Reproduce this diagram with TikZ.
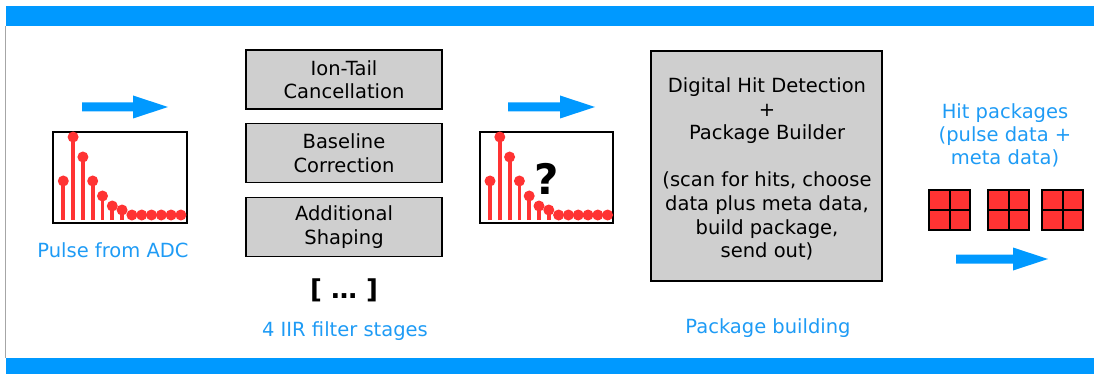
\documentclass[tikz,border=0pt]{standalone}
\usepackage{fontspec}
\setmainfont{DejaVu Sans}
\definecolor{barblue}{HTML}{0099FF}
\definecolor{txtblue}{HTML}{1E9BF5}
\definecolor{boxgray}{HTML}{CFCFCF}
\definecolor{dotred}{HTML}{FF3333}
\newcommand\mypulse[2]{%
  \foreach \h [count=\i from 0] in {39,83,63,39,24,14,10,5,5,5,5,5,5} {
    \draw[stemline] ({#1+\i*9.8}, #2) -- ({#1+\i*9.8}, {#2-\h});
    \fill[dotred] ({#1+\i*9.8}, {#2-\h}) circle (5.5pt);
  }}
\newcommand\myarrow[3]{%
  \fill[barblue] (#1,{#3-4.5}) -- ({#2-35},{#3-4.5}) -- ({#2-35},{#3-11.5}) -- (#2,#3)
    -- ({#2-35},{#3+11.5}) -- ({#2-35},{#3+4.5}) -- (#1,{#3+4.5}) -- cycle;}
\newcommand\mypack[2]{%
  \fill[dotred] (#1,#2) rectangle ({#1+41},{#2+40});
  \draw[black, line width=2pt] (#1,#2) rectangle ({#1+41},{#2+40});
  \draw[black, line width=2pt] ({#1+20.5},#2) -- ({#1+20.5},{#2+40});
  \draw[black, line width=2pt] (#1,{#2+20}) -- ({#1+41},{#2+20});}
\begin{document}
\begin{tikzpicture}[x=1pt,y=-1pt,
  stemline/.style={draw=dotred, line width=3.8pt},
  stagebox/.style={draw=black, line width=1.8pt, fill=boxgray, minimum width=196pt,
    minimum height=59pt, align=center, inner sep=0pt,
    font=\fontsize{19.5}{23.5}\selectfont},
  bluelabel/.style={text=txtblue, align=center, inner sep=0pt,
    font=\fontsize{19.5}{23.5}\selectfont},
  plotbox/.style={draw=black, line width=2pt}]
\useasboundingbox (0,0) rectangle (1094,374);
% frame
\fill[barblue] (5.5,6) rectangle (1094,26);
\fill[barblue] (5.5,358) rectangle (1094,374);
\draw[gray!70, line width=1.5pt] (5.5,26) -- (5.5,358);
% input pulse
\myarrow{82}{168}{107}
\draw[plotbox] (53,132) rectangle (187,223);
\mypulse{63.3}{220}
\node[bluelabel, anchor=base] (adc) at (113,257) {Pulse from ADC};
% filter stages
\node[stagebox] (ion) at (344,79.5) {Ion-Tail\\Cancellation};
\node[stagebox] (base) at (344,153) {Baseline\\Correction};
\node[stagebox] (shape) at (344,227) {Additional\\Shaping};
\node[font=\fontsize{26}{30}\bfseries, inner sep=0pt] (dots) at (344,290) {[ \dots\ ]};
\node[bluelabel, anchor=base] (iir) at (345,336) {4 IIR filter stages};
% filtered pulse
\myarrow{508}{595}{107}
\draw[plotbox] (480,132) rectangle (613,223);
\mypulse{490}{220}
\node[font=\fontsize{42}{46}\bfseries, inner sep=0pt] (q) at (547,179) {?};
% package builder
\node[draw=black, line width=1.8pt, fill=boxgray, minimum width=231pt, minimum height=230pt,
  inner sep=0pt] (hit) at (766.5,166) {};
\node[align=center, inner sep=0pt, font=\fontsize{19.5}{23.6}\selectfont] (hittext) at (767,169)
  {Digital Hit Detection\\+\\Package Builder\\[23.6pt](scan for hits, choose\\data plus meta data,\\build package,\\send out)};
\node[bluelabel, anchor=base] (pb) at (768,333) {Package building};
% output
\node[bluelabel, anchor=base] (hp) at (1005,165) {Hit packages\\(pulse data +\\meta data)};
\mypack{929}{190}
\mypack{988}{190}
\mypack{1042}{190}
\myarrow{956}{1048}{259}
\end{tikzpicture}
\end{document}
